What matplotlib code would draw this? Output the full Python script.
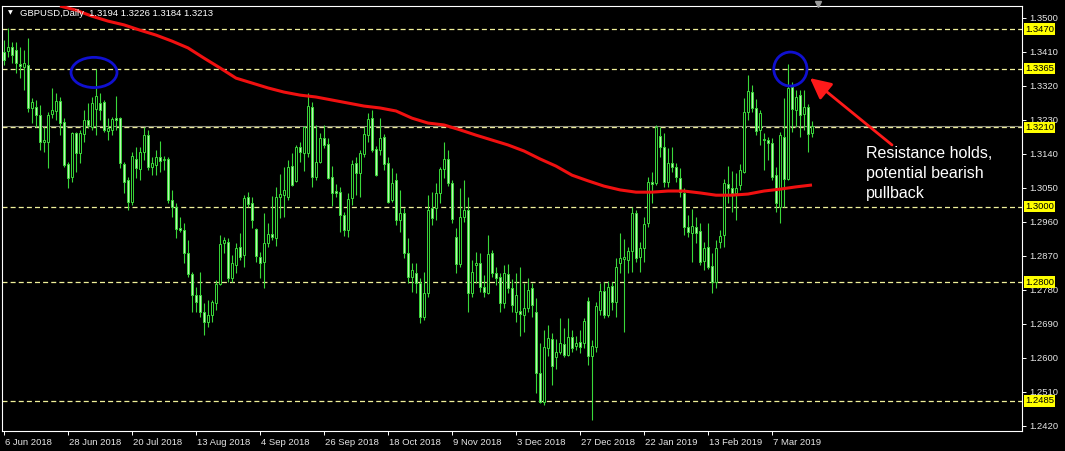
import numpy as np
import matplotlib
matplotlib.use('Agg')
import matplotlib.pyplot as plt
import matplotlib.patches as mpatches
import matplotlib.transforms as mtransforms

# GBPUSD daily bars (6 Jun 2018 .. 21 Mar 2019)
opens = [1.3409, 1.3412, 1.3422, 1.3414, 1.3377, 1.3369, 1.3375, 1.3261, 1.3264, 1.3242,
         1.3171, 1.3171, 1.3245, 1.3253, 1.3279, 1.3224, 1.3113, 1.3078, 1.3195, 1.3142,
         1.3192, 1.3229, 1.3211, 1.3258, 1.3274, 1.3277, 1.3200, 1.3203, 1.3234, 1.3234,
         1.3113, 1.3070, 1.3012, 1.3126, 1.3099, 1.3144, 1.3189, 1.3105, 1.3110, 1.3131,
         1.3123, 1.3126, 1.3017, 1.2999, 1.2943, 1.2938, 1.2877, 1.2821, 1.2766, 1.2766,
         1.2721, 1.2694, 1.2713, 1.2745, 1.2795, 1.2903, 1.2906, 1.2811, 1.2845, 1.2893,
         1.2872, 1.3025, 1.3009, 1.2940, 1.2866, 1.2853, 1.2903, 1.2927, 1.2917, 1.3025,
         1.3030, 1.3025, 1.3107, 1.3068, 1.3158, 1.3142, 1.3142, 1.3264, 1.3078, 1.3118,
         1.3181, 1.3166, 1.3078, 1.3041, 1.3038, 1.2978, 1.2938, 1.3022, 1.3115, 1.3089,
         1.3139, 1.3189, 1.3234, 1.3152, 1.3150, 1.3184, 1.3115, 1.3017, 1.3070, 1.2964,
         1.2983, 1.2877, 1.2813, 1.2824, 1.2798, 1.2707, 1.2771, 1.2996, 1.2996, 1.3036,
         1.3099, 1.3126, 1.3062, 1.2919, 1.2848, 1.2972, 1.2991, 1.2771, 1.2845, 1.2850,
         1.2787, 1.2771, 1.2877, 1.2824, 1.2813, 1.2745, 1.2821, 1.2784, 1.2721, 1.2723,
         1.2713, 1.2731, 1.2784, 1.2721, 1.2559, 1.2483, 1.2626, 1.2649, 1.2602, 1.2615,
         1.2636, 1.2607, 1.2654, 1.2631, 1.2641, 1.2639, 1.2750, 1.2604, 1.2628, 1.2726,
         1.2776, 1.2713, 1.2790, 1.2747, 1.2850, 1.2861, 1.2858, 1.2882, 1.2983, 1.2866,
         1.2890, 1.2956, 1.3065, 1.3062, 1.3187, 1.3158, 1.3065, 1.3115, 1.3105, 1.3075,
         1.3036, 1.2946, 1.2930, 1.2946, 1.2935, 1.2856, 1.2893, 1.2843, 1.2800, 1.2906,
         1.2925, 1.3060, 1.3049, 1.3036, 1.3057, 1.3091, 1.3250, 1.3303, 1.3261, 1.3203,
         1.3179, 1.3176, 1.3168, 1.3083, 1.2999, 1.3184, 1.3073, 1.3317, 1.3256, 1.3295,
         1.3245, 1.3264, 1.3194]
highs = [1.3441, 1.3473, 1.3436, 1.3436, 1.3422, 1.3414, 1.3446, 1.3287, 1.3282, 1.3269,
         1.3211, 1.3250, 1.3314, 1.3301, 1.3290, 1.3234, 1.3118, 1.3197, 1.3197, 1.3203,
         1.3256, 1.3274, 1.3290, 1.3364, 1.3301, 1.3282, 1.3234, 1.3237, 1.3293, 1.3237,
         1.3118, 1.3078, 1.3144, 1.3158, 1.3158, 1.3211, 1.3203, 1.3131, 1.3150, 1.3173,
         1.3134, 1.3131, 1.3044, 1.3009, 1.2972, 1.2956, 1.2911, 1.2827, 1.2787, 1.2827,
         1.2745, 1.2752, 1.2752, 1.2805, 1.2925, 1.2919, 1.2917, 1.2872, 1.2903, 1.2930,
         1.3030, 1.3038, 1.3025, 1.2943, 1.2880, 1.2983, 1.2956, 1.3028, 1.3052, 1.3086,
         1.3105, 1.3123, 1.3142, 1.3163, 1.3171, 1.3213, 1.3301, 1.3277, 1.3216, 1.3195,
         1.3216, 1.3181, 1.3107, 1.3060, 1.3052, 1.2985, 1.3036, 1.3123, 1.3131, 1.3150,
         1.3211, 1.3248, 1.3256, 1.3160, 1.3234, 1.3192, 1.3131, 1.3102, 1.3089, 1.3044,
         1.2996, 1.2917, 1.2850, 1.2850, 1.2811, 1.2827, 1.3030, 1.3038, 1.3062, 1.3105,
         1.3171, 1.3150, 1.3070, 1.2943, 1.3049, 1.3070, 1.3025, 1.2858, 1.2880, 1.2877,
         1.2819, 1.2925, 1.2885, 1.2840, 1.2824, 1.2845, 1.2848, 1.2808, 1.2824, 1.2840,
         1.2798, 1.2811, 1.2798, 1.2758, 1.2639, 1.2673, 1.2686, 1.2665, 1.2649, 1.2705,
         1.2678, 1.2705, 1.2673, 1.2657, 1.2673, 1.2705, 1.2760, 1.2647, 1.2747, 1.2798,
         1.2800, 1.2803, 1.2800, 1.2864, 1.2930, 1.2914, 1.2893, 1.2999, 1.2991, 1.2906,
         1.2972, 1.3078, 1.3091, 1.3216, 1.3211, 1.3195, 1.3155, 1.3158, 1.3115, 1.3102,
         1.3049, 1.2978, 1.2993, 1.2972, 1.2956, 1.2906, 1.2956, 1.2877, 1.2911, 1.2938,
         1.3073, 1.3107, 1.3094, 1.3089, 1.3113, 1.3287, 1.3348, 1.3322, 1.3285, 1.3256,
         1.3195, 1.3184, 1.3181, 1.3105, 1.3197, 1.3287, 1.3377, 1.3330, 1.3308, 1.3308,
         1.3308, 1.3272, 1.3226]
lows = [1.3375, 1.3396, 1.3380, 1.3354, 1.3340, 1.3308, 1.3250, 1.3221, 1.3211, 1.3150,
        1.3144, 1.3102, 1.3234, 1.3229, 1.3189, 1.3105, 1.3049, 1.3065, 1.3091, 1.3115,
        1.3171, 1.3208, 1.3203, 1.3189, 1.3229, 1.3197, 1.3176, 1.3189, 1.3203, 1.3102,
        1.3036, 1.2991, 1.3004, 1.3075, 1.3070, 1.3123, 1.3097, 1.3083, 1.3083, 1.3091,
        1.3097, 1.3009, 1.2972, 1.2917, 1.2932, 1.2850, 1.2813, 1.2721, 1.2721, 1.2707,
        1.2660, 1.2681, 1.2694, 1.2726, 1.2792, 1.2877, 1.2800, 1.2800, 1.2824, 1.2858,
        1.2840, 1.2999, 1.2943, 1.2853, 1.2811, 1.2784, 1.2893, 1.2911, 1.2896, 1.2969,
        1.2972, 1.3017, 1.3054, 1.3065, 1.3118, 1.3094, 1.3131, 1.3052, 1.3070, 1.3115,
        1.3155, 1.3073, 1.3001, 1.3025, 1.2932, 1.2922, 1.2919, 1.3004, 1.3030, 1.3025,
        1.3131, 1.3171, 1.3144, 1.3081, 1.3137, 1.3097, 1.3009, 1.3012, 1.2951, 1.2932,
        1.2864, 1.2798, 1.2774, 1.2771, 1.2692, 1.2699, 1.2760, 1.2951, 1.2964, 1.3009,
        1.3075, 1.3054, 1.2956, 1.2824, 1.2840, 1.2959, 1.2721, 1.2760, 1.2798, 1.2774,
        1.2760, 1.2768, 1.2813, 1.2792, 1.2721, 1.2731, 1.2771, 1.2721, 1.2694, 1.2657,
        1.2668, 1.2721, 1.2707, 1.2506, 1.2480, 1.2475, 1.2604, 1.2527, 1.2570, 1.2610,
        1.2602, 1.2604, 1.2615, 1.2620, 1.2612, 1.2626, 1.2581, 1.2435, 1.2615, 1.2713,
        1.2705, 1.2707, 1.2726, 1.2707, 1.2824, 1.2668, 1.2824, 1.2827, 1.2853, 1.2827,
        1.2853, 1.2946, 1.3009, 1.3057, 1.3131, 1.3052, 1.3052, 1.3091, 1.3065, 1.3025,
        1.2925, 1.2919, 1.2853, 1.2903, 1.2845, 1.2832, 1.2834, 1.2771, 1.2784, 1.2890,
        1.2893, 1.3009, 1.2985, 1.2964, 1.3044, 1.3089, 1.3229, 1.3250, 1.3189, 1.3163,
        1.3097, 1.3123, 1.3070, 1.2985, 1.2956, 1.2999, 1.3070, 1.3197, 1.3211, 1.3184,
        1.3203, 1.3144, 1.3184]
closes = [1.3388, 1.3422, 1.3401, 1.3380, 1.3372, 1.3380, 1.3261, 1.3277, 1.3242, 1.3171,
          1.3176, 1.3242, 1.3256, 1.3279, 1.3221, 1.3110, 1.3075, 1.3195, 1.3142, 1.3195,
          1.3229, 1.3216, 1.3274, 1.3293, 1.3256, 1.3203, 1.3208, 1.3232, 1.3229, 1.3115,
          1.3065, 1.3012, 1.3134, 1.3102, 1.3144, 1.3189, 1.3105, 1.3115, 1.3131, 1.3121,
          1.3126, 1.3017, 1.2999, 1.2940, 1.2938, 1.2877, 1.2821, 1.2766, 1.2747, 1.2721,
          1.2694, 1.2713, 1.2747, 1.2795, 1.2901, 1.2911, 1.2811, 1.2850, 1.2890, 1.2866,
          1.3022, 1.3007, 1.2964, 1.2869, 1.2850, 1.2903, 1.2927, 1.2919, 1.3025, 1.3033,
          1.3044, 1.3105, 1.3057, 1.3158, 1.3144, 1.3211, 1.3266, 1.3078, 1.3118, 1.3181,
          1.3163, 1.3075, 1.3036, 1.3036, 1.2978, 1.2938, 1.3020, 1.3113, 1.3089, 1.3142,
          1.3192, 1.3232, 1.3150, 1.3083, 1.3181, 1.3113, 1.3012, 1.3062, 1.2964, 1.2983,
          1.2877, 1.2813, 1.2832, 1.2798, 1.2707, 1.2771, 1.2991, 1.2969, 1.3036, 1.3099,
          1.3126, 1.3062, 1.2967, 1.2848, 1.2972, 1.2991, 1.2771, 1.2827, 1.2850, 1.2787,
          1.2774, 1.2874, 1.2824, 1.2811, 1.2745, 1.2824, 1.2784, 1.2740, 1.2766, 1.2715,
          1.2731, 1.2779, 1.2740, 1.2559, 1.2483, 1.2628, 1.2652, 1.2578, 1.2615, 1.2639,
          1.2607, 1.2654, 1.2626, 1.2639, 1.2628, 1.2697, 1.2604, 1.2631, 1.2737, 1.2776,
          1.2713, 1.2787, 1.2747, 1.2840, 1.2864, 1.2866, 1.2882, 1.2983, 1.2864, 1.2890,
          1.2954, 1.3065, 1.3060, 1.3211, 1.3158, 1.3065, 1.3115, 1.3105, 1.3078, 1.3038,
          1.2946, 1.2932, 1.2948, 1.2930, 1.2853, 1.2890, 1.2840, 1.2800, 1.2890, 1.2922,
          1.3062, 1.3049, 1.3036, 1.3049, 1.3097, 1.3250, 1.3306, 1.3261, 1.3200, 1.3248,
          1.3176, 1.3168, 1.3078, 1.3009, 1.3189, 1.3073, 1.3314, 1.3258, 1.3290, 1.3242,
          1.3264, 1.3192, 1.3213]

# moving average, read every 4th bar starting at bar 14
ma_start = 14
ma_step = 4
ma_values = [1.3531, 1.3520, 1.3504, 1.3491, 1.3481, 1.3467, 1.3454, 1.3438, 1.3420, 1.3393,
             1.3367, 1.3340, 1.3327, 1.3314, 1.3303, 1.3295, 1.3290, 1.3282, 1.3274, 1.3266,
             1.3261, 1.3253, 1.3234, 1.3221, 1.3216, 1.3203, 1.3189, 1.3176, 1.3163, 1.3147,
             1.3126, 1.3107, 1.3083, 1.3068, 1.3054, 1.3044, 1.3038, 1.3038, 1.3041, 1.3041,
             1.3036, 1.3030, 1.3030, 1.3033, 1.3041, 1.3046, 1.3052, 1.3057]

levels = [1.3470, 1.3365, 1.3210, 1.3000, 1.2800, 1.2485]
price_ticks = [1.3500, 1.3410, 1.3320, 1.3230, 1.3140, 1.3050, 1.2960,
               1.2870, 1.2780, 1.2690, 1.2600, 1.2510, 1.2420]
date_labels = ['6 Jun 2018', '28 Jun 2018', '20 Jul 2018', '13 Aug 2018', '4 Sep 2018',
               '26 Sep 2018', '18 Oct 2018', '9 Nov 2018', '3 Dec 2018', '27 Dec 2018',
               '22 Jan 2019', '13 Feb 2019', '7 Mar 2019']
label_every = 16

W, H, DPI = 1065, 451, 100
GREEN = '#3ad83a'
BEAR_FILL = '#bdf5b4'
FONT = 'Liberation Sans'

fig = plt.figure(figsize=(W / DPI, H / DPI), dpi=DPI, facecolor='black')
ax = fig.add_axes([2 / W, 20 / H, 1020 / W, 425 / H], facecolor='black')

n = len(closes)
idx = np.arange(n)
o = np.array(opens)
c = np.array(closes)
hi = np.array(highs)
lo = np.array(lows)

# level lines
for lv in levels:
    ax.axhline(lv, color='#f0f09a', lw=0.9, linestyle=(0, (4, 2.5)), zorder=1)
# bid line
ax.axhline(closes[-1], color='#8c8c7c', lw=0.8, zorder=1)

# candles
ax.vlines(idx, lo, hi, color=GREEN, lw=0.8, zorder=2)
bull = c >= o
face = np.where(bull, 'black', BEAR_FILL)
ax.bar(idx, np.abs(c - o), bottom=np.minimum(o, c), width=0.74,
       color=face, edgecolor=GREEN, linewidth=0.7, zorder=3)

# moving average
ma_x = ma_start + ma_step * np.arange(len(ma_values))
ax.plot(ma_x, ma_values, color='#f01010', lw=2.2, zorder=4, solid_capstyle='butt')

# circles on the July top and the March top
p1 = 15 + int(np.argmax(hi[15:60]))
p2 = 150 + int(np.argmax(hi[150:]))
ax.add_patch(mpatches.Ellipse((p1 - 0.5, hi[p1] - 0.0009), 11.5, 0.0080,
                              fill=False, edgecolor='#1010d0', lw=2.0, zorder=5))
ax.add_patch(mpatches.Ellipse((p2 + 0.6, hi[p2] - 0.0013), 8.3, 0.0090,
                              fill=False, edgecolor='#1010d0', lw=2.0, zorder=5))

# annotation
ax.annotate('', xy=(p2 + 5.5, hi[p2] - 0.0037), xytext=(p2 + 26, hi[p2] - 0.0214),
            arrowprops=dict(arrowstyle='-|>,head_length=0.9,head_width=0.45',
                            color='#ff1a1a', lw=2.0, mutation_scale=14,
                            shrinkA=0, shrinkB=0), zorder=6)
ax.text(p2 + 19.5, hi[p2] - 0.0218, 'Resistance holds,\npotential bearish\npullback',
        color='white', fontsize=11.5, family=FONT, va='top', ha='left',
        linespacing=1.4, zorder=6)

ax.set_xlim(-0.5, 254.5)
ax.set_ylim(1.24055, 1.3531)

# price axis
ax.yaxis.tick_right()
ax.set_yticks(price_ticks)
ax.set_yticklabels(['%.4f' % t for t in price_ticks])
ax.tick_params(axis='y', colors='white', direction='out', length=3, width=0.7,
               pad=2, labelsize=6.8, labelcolor='#e6e6e6')
for lab in ax.get_yticklabels():
    lab.set_family(FONT)

# level tags on the price axis
tag_tf = mtransforms.blended_transform_factory(ax.transAxes, ax.transData)
for lv in levels:
    ax.text(1.0028, lv, '%.4f' % lv, transform=tag_tf, fontsize=6.8, family=FONT,
            color='black', va='center', ha='left', zorder=10, clip_on=False,
            bbox=dict(boxstyle='square,pad=0.12', facecolor='#ffff00', edgecolor='none'))

# date axis
ax.set_xticks(range(0, label_every * len(date_labels), label_every))
ax.set_xticklabels(date_labels)
ax.tick_params(axis='x', colors='white', direction='out', length=3, width=0.7,
               pad=2, labelsize=6.8, labelcolor='#e6e6e6')
offset = mtransforms.ScaledTranslation(1 / DPI, 0, fig.dpi_scale_trans)
for lab in ax.get_xticklabels():
    lab.set_family(FONT)
    lab.set_ha('left')
    lab.set_transform(lab.get_transform() + offset)

for sp in ax.spines.values():
    sp.set_color('white')
    sp.set_linewidth(0.8)

# header
ax.text(6 / 1020, 1 - 7 / 425, '\u25bc', transform=ax.transAxes, color='white',
        fontsize=4.5, va='center', ha='left', zorder=10)
ax.text(18 / 1020, 1 - 7 / 425, 'GBPUSD,Daily  1.3194 1.3226 1.3184 1.3213',
        transform=ax.transAxes, color='white', fontsize=6.8, family=FONT,
        va='center', ha='left', zorder=10)

# chart shift marker
shift_tf = mtransforms.blended_transform_factory(ax.transData, ax.transAxes)
ax.plot([203.5], [1.005], marker='v', color='#9a9a9a', markersize=5,
        transform=shift_tf, clip_on=False, zorder=10)

fig.savefig('out.png', dpi=DPI, facecolor='black')
